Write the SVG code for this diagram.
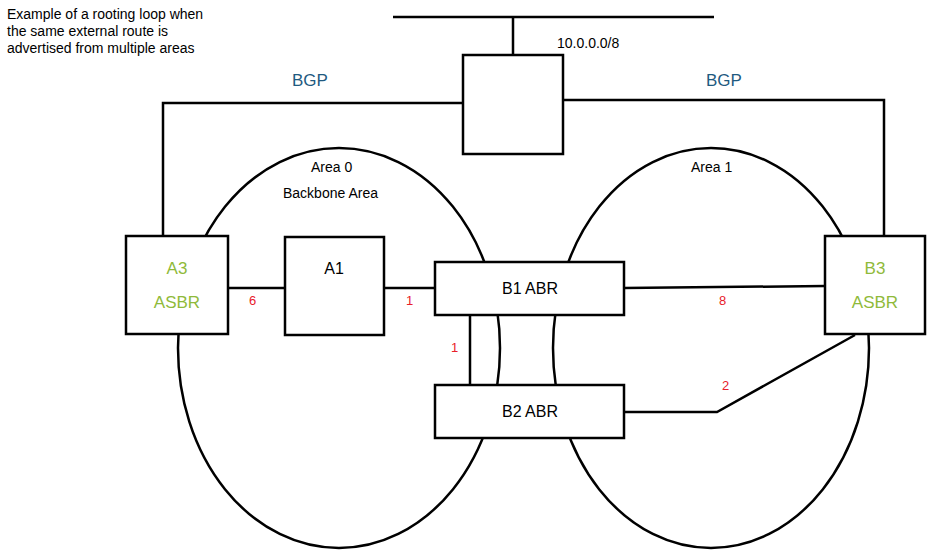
<svg xmlns="http://www.w3.org/2000/svg" width="933" height="552" viewBox="0 0 933 552">
<style>
.s{fill:none;stroke:#000;stroke-width:2.5}
.b{fill:#fff;stroke:#000;stroke-width:2.5}
text{font-family:"Liberation Sans",Arial,sans-serif}
.t{font-size:16px;fill:#000}
.g{font-size:17px;fill:#8fba3a}
.r{font-size:13px;fill:#e8202a}
.bgp{font-size:17px;fill:#1f5a80}
.n{font-size:14px;fill:#000}
</style>
<rect width="933" height="552" fill="#fff"/>
<text class="n" x="7" y="19">Example of a rooting loop when</text>
<text class="n" x="7" y="36">the same external route is</text>
<text class="n" x="7" y="53">advertised from multiple areas</text>
<g id="areas">
<ellipse class="s" cx="339" cy="348" rx="161" ry="200"/>
<ellipse class="s" cx="711" cy="348" rx="158" ry="200"/>
<text class="n" x="311" y="172">Area 0</text>
<text class="n" x="283" y="198">Backbone Area</text>
<text class="n" x="691" y="172">Area 1</text>
</g>
<g id="connectors">
<path class="s" d="M393 17H714M513 17V55M463 103H163V236M563 100H884V236M228 288H285M384 288H435M624 288L825 286M470 315V385M624 412H717L855 335"/>
</g>
<text class="bgp" x="292" y="86">BGP</text>
<text class="bgp" x="706" y="86">BGP</text>
<text class="n" x="557" y="48">10.0.0.0/8</text>
<text class="r" x="249" y="305">6</text>
<text class="r" x="406" y="305">1</text>
<text class="r" x="451" y="352">1</text>
<text class="r" x="719" y="305">8</text>
<text class="r" x="722" y="390">2</text>
<g id="router"><rect class="b" x="463" y="55" width="100" height="99"/></g>
<g id="A3"><rect class="b" x="126" y="236" width="102" height="98"/><text class="g" x="177" y="274" text-anchor="middle">A3</text><text class="g" x="177" y="308" text-anchor="middle">ASBR</text></g>
<g id="A1"><rect class="b" x="285" y="237" width="99" height="98"/><text class="t" x="334" y="274" text-anchor="middle">A1</text></g>
<g id="B1"><rect class="b" x="435" y="262" width="189" height="53"/><text class="t" x="530" y="294" text-anchor="middle">B1  ABR</text></g>
<g id="B2"><rect class="b" x="435" y="385" width="189" height="53"/><text class="t" x="530" y="417" text-anchor="middle">B2  ABR</text></g>
<g id="B3"><rect class="b" x="825" y="236" width="100" height="98"/><text class="g" x="875" y="274" text-anchor="middle">B3</text><text class="g" x="875" y="308" text-anchor="middle">ASBR</text></g>
</svg>
